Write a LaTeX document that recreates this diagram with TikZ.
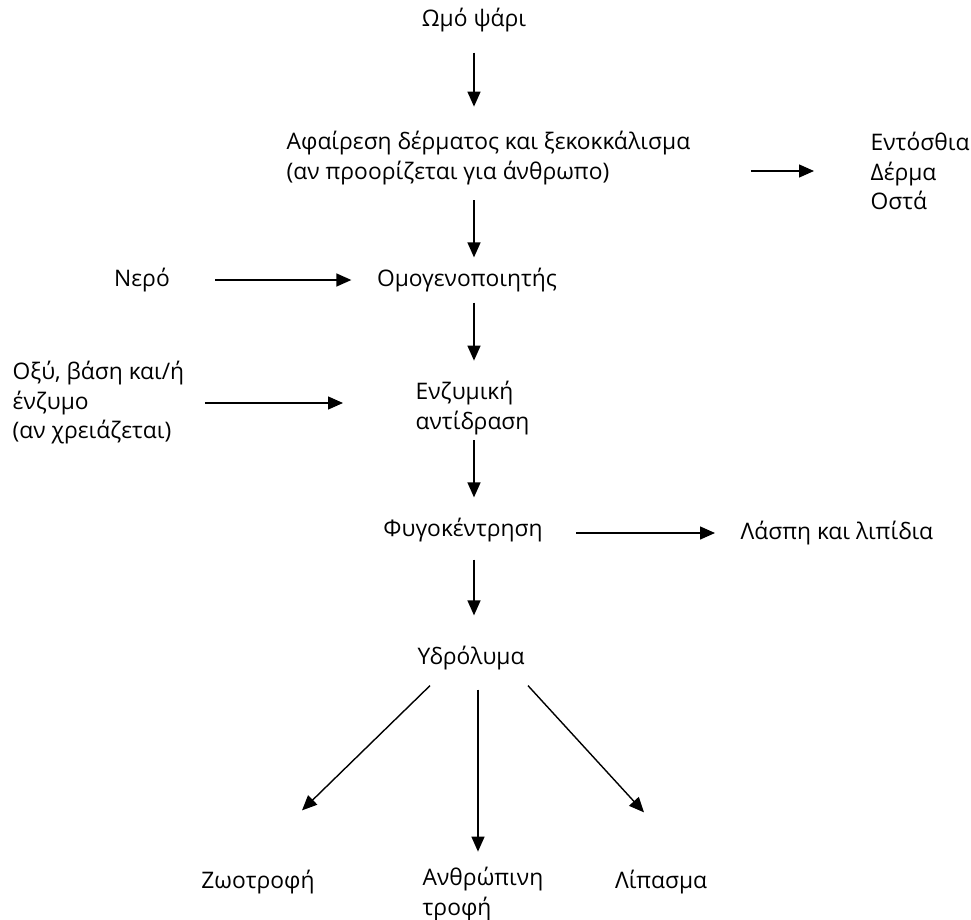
\documentclass[tikz,border=0pt]{standalone}
\usepackage{fontspec}
\setmainfont{Open Sans}
\usepackage{tikz}
\usetikzlibrary{positioning, arrows.meta}

\begin{document}
\begin{tikzpicture}[x=1pt,y=-1pt,->,>={Triangle[length=15pt,width=13pt]},line width=1.4pt]
\tikzstyle{every node}=[font=\fontsize{22.8}{29.5}\selectfont,inner sep=0pt,align=left,text=black]
\useasboundingbox[fill=white] (0,0) rectangle (971,920);
\node (raw) at (474,20) {Ωμό ψάρι};
\node (skin) [anchor=west] at (286,158) {Αφαίρεση δέρματος και ξεκοκκάλισμα\\(αν προορίζεται για άνθρωπο)};
\node (waste) [anchor=west] at (870,171) {Εντόσθια\\Δέρμα\\Οστά};
\node (water) at (142,280) {Νερό};
\node (homog) at (467,280) {Ομογενοποιητής};
\node (acid) [anchor=west] at (12,403) {Οξύ, βάση και/ή\\ένζυμο\\(αν χρειάζεται)};
\node (enzyme) [anchor=west] at (415,408) {Ενζυμική\\αντίδραση};
\node (centri) at (463,530) {Φυγοκέντρηση};
\node (sludge) [anchor=west] at (740,533) {Λάσπη και λιπίδια};
\node (hydro) at (471,658) {Υδρόλυμα};
\node (feed) at (258,882) {Ζωοτροφή};
\node (human) [anchor=west] at (422,894) {Ανθρώπινη\\τροφή};
\node (fert) at (661,882) {Λίπασμα};

\path
(raw |- raw.south) edge[shorten <=20pt,shorten >=24pt] (raw |- skin.north)
(raw |- skin.south) edge[shorten <=15pt,shorten >=10pt] (raw |- homog.north)
(skin.east |- waste.west) edge[shorten <=60pt,shorten >=56pt] (waste.west)
(water) edge[shorten <=45pt,shorten >=25pt] (homog)
(raw |- homog.south) edge[shorten <=10pt,shorten >=20pt] (raw |- enzyme.north)
(acid.east) edge[shorten <=20pt,shorten >=72pt] (acid.east -| enzyme.west)
(raw |- enzyme.south) edge[shorten <=5pt,shorten >=20pt] (raw |- centri.north)
(centri.east |- sludge.west) edge[shorten <=33pt,shorten >=25pt] (sludge.west)
(raw |- centri.south) edge[shorten <=17pt,shorten >=30pt] (raw |- hydro.north)
([xshift=-41pt,yshift=-15pt]hydro.south) edge ([xshift=44pt,yshift=59pt]feed.north)
([xshift=-5pt]human.north |- hydro.south) edge[shorten <=19pt,shorten >=15pt] ([xshift=-5pt]human.north)
([xshift=57pt,yshift=-15pt]hydro.south) edge ([xshift=-17pt,yshift=57pt]fert.north);
\end{tikzpicture}
\end{document}
